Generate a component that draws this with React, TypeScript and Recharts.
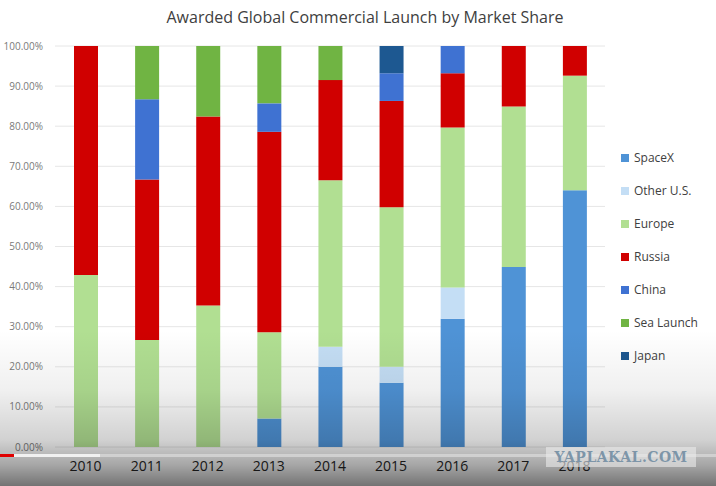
import React from "react";
import {
  BarChart,
  Bar,
  XAxis,
  YAxis,
  CartesianGrid,
} from "recharts";

// years on the category axis
const years = ["2010", "2011", "2012", "2013", "2014", "2015", "2016", "2017", "2018"];

// market share (%) per provider
const spacex = [0, 0, 0, 7.1, 20.0, 16.0, 32.0, 44.9, 64.0];
const otherUS = [0, 0, 0, 0, 5.0, 4.0, 7.8, 0, 0];
const europe = [42.9, 26.7, 35.3, 21.5, 41.5, 39.8, 39.9, 40.0, 28.6];
const russia = [57.1, 40.0, 47.1, 50.0, 25.0, 26.5, 13.5, 15.1, 7.4];
const china = [0, 20.0, 0, 7.1, 0, 6.9, 6.8, 0, 0];
const seaLaunch = [0, 13.3, 17.6, 14.3, 8.5, 0, 0, 0, 0];
const japan = [0, 0, 0, 0, 0, 6.8, 0, 0, 0];

const yTicks = [0, 10, 20, 30, 40, 50, 60, 70, 80, 90, 100];

const series = [
  { key: "spacex", name: "SpaceX", color: "#4f93d6", values: spacex },
  { key: "otherUS", name: "Other U.S.", color: "#c4def5", values: otherUS },
  { key: "europe", name: "Europe", color: "#b1df92", values: europe },
  { key: "russia", name: "Russia", color: "#d00000", values: russia },
  { key: "china", name: "China", color: "#3f72d2", values: china },
  { key: "seaLaunch", name: "Sea Launch", color: "#70b443", values: seaLaunch },
  { key: "japan", name: "Japan", color: "#1d5891", values: japan },
];

const chartData = years.map((year, i) => {
  const row: any = { year };
  series.forEach((s) => {
    row[s.key] = s.values[i];
  });
  return row;
});

const FONT = "'Open Sans', 'Noto Sans', sans-serif";

const LegendBox = () => (
  <div
    style={{
      position: "absolute",
      left: 621,
      top: 141,
      width: 95,
      fontFamily: FONT,
    }}
  >
    {series.map((s) => (
      <div
        key={s.key}
        style={{
          display: "flex",
          alignItems: "center",
          height: 33,
          fontSize: 12,
          color: "#404040",
        }}
      >
        <span
          style={{
            display: "inline-block",
            width: 8,
            height: 8,
            background: s.color,
            marginRight: 5,
          }}
        />
        {s.name}
      </div>
    ))}
  </div>
);

export default function App() {
  return (
    <div
      style={{
        position: "absolute",
        left: 0,
        top: 0,
        width: 716,
        height: 486,
        background: "#ffffff",
        overflow: "hidden",
      }}
    >
      <div
        style={{
          position: "absolute",
          left: 0,
          width: 716,
          top: 6,
          textAlign: "center",
          paddingLeft: 14,
          boxSizing: "border-box",
          fontFamily: FONT,
          fontSize: 16,
          color: "#404040",
        }}
      >
        Awarded Global Commercial Launch by Market Share
      </div>
      <BarChart
        width={716}
        height={486}
        data={chartData}
        margin={{ top: 46, right: 111, left: 0, bottom: 9 }}
      >
        <CartesianGrid vertical={false} stroke="#e6e6e6" />
        <XAxis
          dataKey="year"
          height={30}
          axisLine={false}
          tickLine={false}
          tickMargin={8}
          tick={{ fontSize: 14, fill: "#262626", fontFamily: FONT }}
        />
        <YAxis
          width={55}
          domain={[0, 100]}
          ticks={yTicks}
          axisLine={false}
          tickLine={false}
          tickMargin={6}
          tickFormatter={(v) => `${v.toFixed(2)}%`}
          tick={{ fontSize: 10, fill: "#7a7a7a", fontFamily: FONT }}
        />
        {series.map((s) => (
          <Bar
            key={s.key}
            dataKey={s.key}
            name={s.name}
            stackId="share"
            fill={s.color}
            barSize={24}
            isAnimationActive={false}
          />
        ))}
      </BarChart>
      <LegendBox />
      {/* video overlay darkening toward the bottom */}
      <div
        style={{
          position: "absolute",
          left: 0,
          top: 0,
          width: 716,
          height: 486,
          pointerEvents: "none",
          background:
            "linear-gradient(to bottom, rgba(0,0,0,0) 0px, rgba(0,0,0,0) 330px, rgba(0,0,0,0.06) 390px, rgba(0,0,0,0.18) 440px, rgba(0,0,0,0.35) 465px, rgba(0,0,0,0.55) 486px)",
        }}
      />
      <div
        style={{
          position: "absolute",
          left: 0,
          top: 454,
          width: 716,
          height: 3,
          background: "rgba(230,230,230,0.55)",
        }}
      />
      <div
        style={{
          position: "absolute",
          left: 0,
          top: 454,
          width: 100,
          height: 3,
          background: "rgba(255,255,255,0.7)",
        }}
      />
      <div
        style={{
          position: "absolute",
          left: 0,
          top: 454,
          width: 14,
          height: 3,
          background: "#e00000",
        }}
      />
      <div
        style={{
          position: "absolute",
          left: 546,
          top: 447,
          width: 150,
          height: 20,
          background: "rgba(235,235,235,0.6)",
          textAlign: "center",
          fontFamily: "'DejaVu Serif', serif",
          fontWeight: "bold",
          fontSize: 14,
          lineHeight: "20px",
          color: "#7d95a8",
          letterSpacing: 0.5,
        }}
      >
        YAPLAKAL.COM
      </div>
    </div>
  );
}
